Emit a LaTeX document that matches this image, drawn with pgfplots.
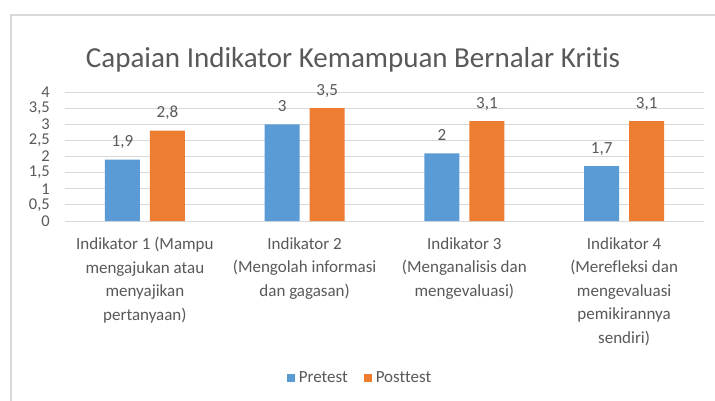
\documentclass[border=0pt]{standalone}
\usepackage{pgfplots}
\pgfplotsset{compat=1.18}
\usepackage{fontspec}
\setmainfont{Carlito}[Ligatures=NoCommon]
\definecolor{txt}{HTML}{595959}
\definecolor{gridc}{HTML}{D9D9D9}
\definecolor{pre}{HTML}{5B9BD5}
\definecolor{post}{HTML}{ED7D31}
\begin{document}
\begin{tikzpicture}
\useasboundingbox (0pt,0pt) rectangle (715pt,400pt);
\fill[white] (0pt,0pt) rectangle (715pt,400pt);
\draw[gridc, line width=1.2pt] (11pt,-2pt) -- (11pt,385pt) -- (717pt,385pt);
\node[anchor=base, text=txt, font=\fontsize{29}{32}\selectfont, inner sep=0pt] at (353pt,333pt) {Capaian Indikator Kemampuan Bernalar Kritis};
\begin{axis}[
  at={(65pt,179pt)}, anchor=south west,
  scale only axis, width=639pt, height=129pt,
  xmin=-0.5, xmax=3.5, ymin=0, ymax=4,
  enlargelimits=false,
  axis line style={draw=none},
  major tick length=0pt,
  ymajorgrids, grid style={gridc, line width=0.9pt},
  ytick={0,0.5,1,1.5,2,2.5,3,3.5,4},
  /pgf/number format/assume math mode=true,
  /pgf/number format/use comma,
  yticklabel style={font=\fontsize{16.5}{18}\selectfont, text=txt, inner sep=0pt, anchor=east, xshift=-15pt},
  xtick={0,1,2,3},
  xticklabels={{Indikator 1 (Mampu\\mengajukan atau\\menyajikan\\pertanyaan)},
               {Indikator 2\\(Mengolah informasi\\dan gagasan)},
               {Indikator 3\\(Menganalisis dan\\mengevaluasi)},
               {Indikator 4\\(Merefleksi dan\\mengevaluasi\\pemikirannya\\sendiri)}},
  xticklabel style={font=\fontsize{17}{23.5}\selectfont, text=txt, align=center, inner sep=0pt, anchor=north, yshift=-16pt},
  ybar=10pt, bar width=35pt,
  nodes near coords,
  point meta=explicit symbolic,
  every node near coord/.append style={font=\fontsize{17}{20}\selectfont, text=txt, anchor=base, inner sep=0pt, yshift=13pt},
  legend columns=2,
  legend style={draw=none, fill=none, at={(0.4617,-1.217)}, anchor=center, font=\fontsize{17}{20}\selectfont, text=txt,
    /tikz/every odd column/.append style={column sep=2pt},
    /tikz/every even column/.append style={column sep=14pt}},
  legend image code/.code={\fill[#1] (0pt,-4pt) rectangle (8pt,4pt);},
]
\addplot[fill=pre, draw=none] coordinates {(0,1.9)[1,9] (1,3)[3] (2,2.1)[2] (3,1.7)[1,7]};
\addplot[fill=post, draw=none] coordinates {(0,2.8)[2,8] (1,3.5)[3,5] (2,3.1)[3,1] (3,3.1)[3,1]};
\legend{Pretest, Posttest}
\end{axis}
\end{tikzpicture}
\end{document}
